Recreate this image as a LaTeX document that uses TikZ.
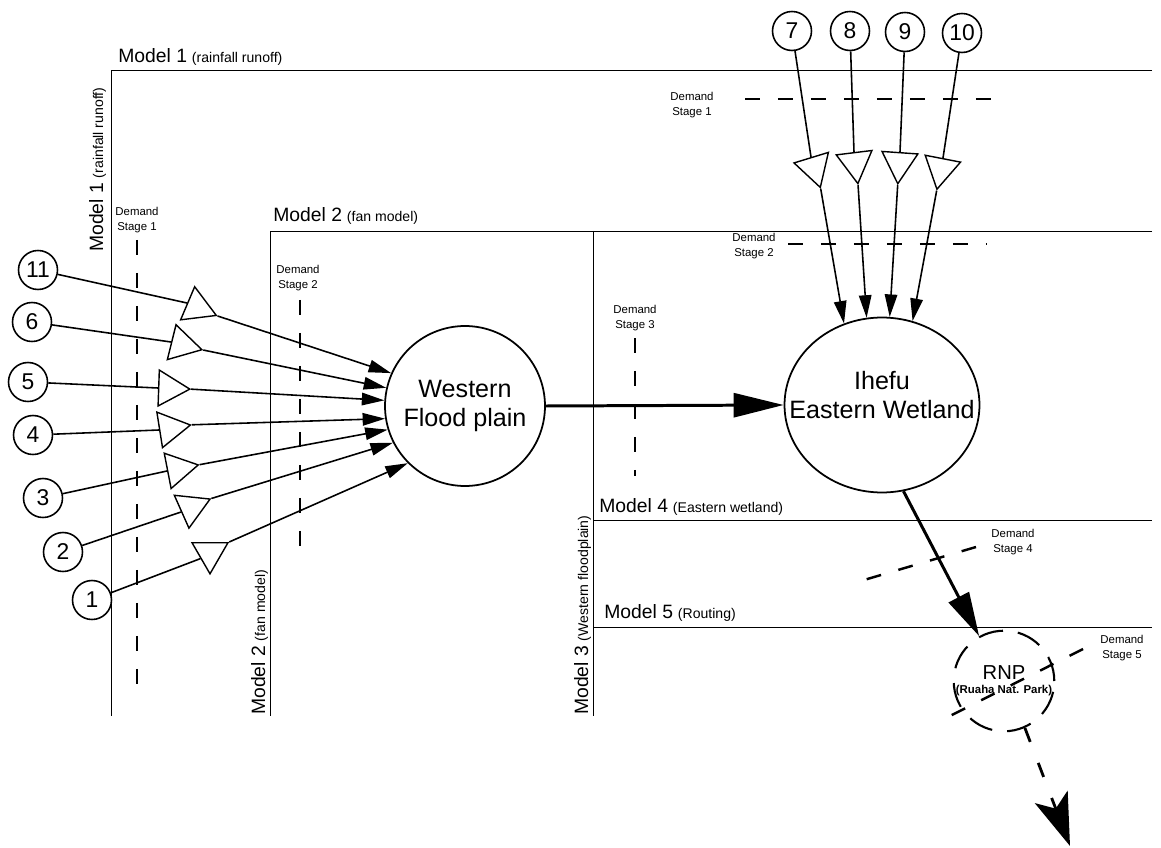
\documentclass[tikz,border=0pt]{standalone}
\usepackage{fontspec}
\setmainfont{Liberation Sans}
\usetikzlibrary{shapes.geometric,arrows.meta}

\newcommand{\modelname}[2]{{\fontsize{11}{13}\selectfont #1} {\fontsize{8}{9}\selectfont (#2)}}

\tikzset{
  frameline/.style={line width=0.5pt},
  demandline/.style={line width=1.4pt, dash pattern=on 0.3cm off 0.36cm},
  stagetext/.style={font=\fontsize{6.5}{8.6}\selectfont, align=center, inner sep=0pt},
  modeltitle/.style={anchor=base west, inner sep=0pt},
  srcnode/.style={circle, draw, line width=0.9pt, minimum size=0.78cm, inner sep=0pt, font=\fontsize{13}{15}\selectfont},
  ampbox/.style={regular polygon, regular polygon sides=3, draw, line width=0.8pt, minimum size=0.83cm, inner sep=0pt, anchor=side 2},
  basintext/.style={align=center, inner sep=0pt, font=\fontsize{14.3}{17}\selectfont},
  basin/.style={draw, line width=1pt, inner sep=0pt, basintext},
  feed/.style={line width=0.9pt},
  inflow/.style={line width=0.9pt, -{Triangle[length=0.45cm, width=0.25cm]}},
  mainflow/.style={line width=1.7pt, -{Triangle[length=1cm, width=0.48cm]}},
}

\begin{document}
\begin{tikzpicture}[x=0.02cm, y=-0.02cm]
\useasboundingbox (0,0) rectangle (1161,848);

\draw[frameline] (1152,70) -- (111,70) -- (111,716);
\draw[frameline] (1152,231) -- (270,231) -- (270,716);
\draw[frameline] (593,231) -- (593,716);
\draw[frameline] (593,520) -- (1152,520);
\draw[frameline] (593,627) -- (1152,627);

\node[modeltitle] (m1) at (118,63) {\modelname{Model 1}{rainfall runoff}};
\node[modeltitle, rotate=90] (m1v) at (103,252) {\modelname{Model 1}{rainfall runoff}};
\node[modeltitle] (m2) at (273,222) {\modelname{Model 2}{fan model}};
\node[modeltitle, rotate=90] (m2v) at (265,715) {\modelname{Model 2}{fan model}};
\node[modeltitle, rotate=90] (m3v) at (588,715) {\modelname{Model 3}{Western floodplain}};
\node[modeltitle] (m4) at (599,512) {\modelname{Model 4}{Eastern wetland}};
\node[modeltitle] (m5) at (604,618) {\modelname{Model 5}{Routing}};

\draw[demandline] (137,240) -- (137,696);
\draw[demandline] (300,300) -- (300,560);
\draw[demandline] (635,338) -- (635,476);
\draw[demandline] (745,99) -- (1003,99);
\draw[demandline] (788,244) -- (987,244);
\draw[demandline] (976,547) -- (864,580);
\draw[demandline] (1083,649) -- (938,722);

\node[stagetext] (ds1) at (137,220) {Demand\\Stage 1};
\node[stagetext] (ds2) at (298,278) {Demand\\Stage 2};
\node[stagetext] (ds3) at (635,318) {Demand\\Stage 3};
\node[stagetext] (ds1r) at (692,105) {Demand\\Stage 1};
\node[stagetext] (ds2r) at (754,246) {Demand\\Stage 2};
\node[stagetext] (ds4) at (1013,542) {Demand\\Stage 4};
\node[stagetext] (ds5) at (1122,648) {Demand\\Stage 5};

\node[basin, circle, minimum size=3.2cm] (wfp) at (465,406) {Western\\Flood plain};
\node[basin, ellipse, minimum width=3.9cm, minimum height=3.5cm,
  label={[basintext, yshift=0.2cm]center:{Ihefu\\Eastern Wetland}}] (ihefu) at (882,405) {};
\node[circle, draw, line width=1.2pt, dash pattern=on 0.5cm off 0.3cm, minimum size=2cm,
  inner sep=0pt, align=center, font=\fontsize{6.5}{8}\selectfont] (rnp) at (1004,681)
  {{\fontsize{11.5}{8}\selectfont RNP}\\{\bfseries (Ruaha Nat. Park)}};

\node[srcnode] (s11) at (38,270) {11};
\node[srcnode] (s6) at (32,322) {6};
\node[srcnode] (s5) at (28,382) {5};
\node[srcnode] (s4) at (33,435) {4};
\node[srcnode] (s3) at (43,498) {3};
\node[srcnode] (s2) at (63,552) {2};
\node[srcnode] (s1) at (92,600) {1};
\node[srcnode] (s7) at (792,31) {7};
\node[srcnode] (s8) at (850,31) {8};
\node[srcnode] (s9) at (905,32) {9};
\node[srcnode] (s10) at (962,33) {10};

\node[ampbox, rotate=-113] (t11) at (187,303) {};
\node[ampbox, rotate=-104] (t6) at (171,342) {};
\node[ampbox, rotate=-92] (t5) at (158,388) {};
\node[ampbox, rotate=-81] (t4) at (159,430) {};
\node[ampbox, rotate=-79] (t3) at (167,471) {};
\node[ampbox, rotate=-66] (t2) at (181,512) {};
\node[ampbox, rotate=180] (t1) at (210,542) {};
\node[ampbox, rotate=-163] (t7) at (811,157) {};
\node[ampbox, rotate=-173] (t8) at (854,152) {};
\node[ampbox, rotate=176] (t9) at (900,152) {};
\node[ampbox, rotate=169] (t10) at (943,158) {};

\draw[feed] (s11) -- (t11.side 2);
\draw[feed] (s6) -- (t6.side 2);
\draw[feed] (s5) -- (t5.side 2);
\draw[feed] (s4) -- (t4.side 2);
\draw[feed] (s3) -- (t3.side 2);
\draw[feed] (s2) -- (t2.side 2);
\draw[feed] (s1) -- (t1.side 3);
\draw[feed] (s7) -- (t7.side 2);
\draw[feed] (s8) -- (t8.side 2);
\draw[feed] (s9) -- (t9.side 2);
\draw[feed] (s10) -- (t10.side 2);

\draw[inflow] (t11.corner 1) -- (wfp.156);
\draw[inflow] (t6.corner 1) -- (wfp.167);
\draw[inflow] (t5.corner 1) -- (wfp.176);
\draw[inflow] (t4.corner 1) -- (wfp.189);
\draw[inflow] (t3.corner 1) -- (wfp.197);
\draw[inflow] (t2.corner 1) -- (wfp.207);
\draw[inflow] (t1.corner 2) -- (wfp.225);
\draw[inflow] (t7.corner 1) -- (ihefu.115);
\draw[inflow] (t8.corner 1) -- (ihefu.100);
\draw[inflow] (t9.corner 1) -- (ihefu.85);
\draw[inflow] (t10.corner 1) -- (ihefu.70);

\draw[mainflow] (wfp.east) -- (ihefu.west);
\draw[mainflow, -{Triangle[length=0.88cm, width=0.45cm]}] (ihefu.-76) -- (rnp.119);
\coordinate (outlet) at (1070,846);
\draw[line width=1.6pt, dash pattern=on 0.3cm off 0.45cm,
  -{Stealth[length=1.05cm, width=0.7cm, inset=0.25cm]}] (rnp.-66) -- (outlet);
\end{tikzpicture}
\end{document}
